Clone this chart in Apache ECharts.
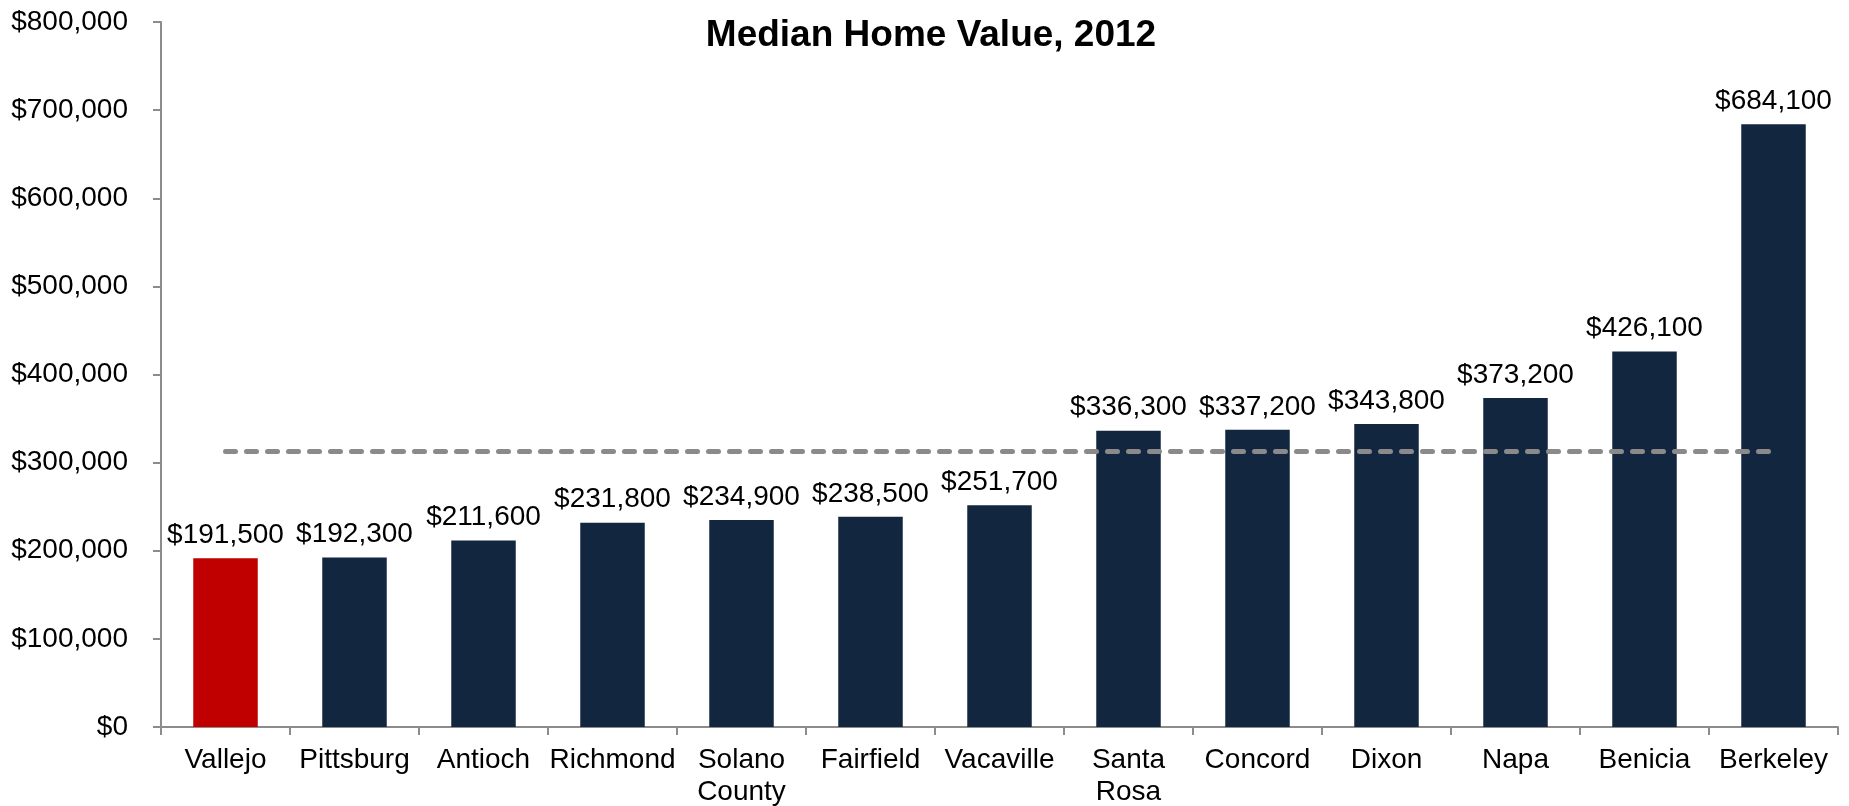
<!DOCTYPE html>
<html>
<head>
<meta charset="utf-8">
<title>Median Home Value, 2012</title>
<script src="https://cdn.jsdelivr.net/npm/echarts@6/dist/echarts.min.js"></script>
<style>
  html, body { margin: 0; padding: 0; background: #ffffff; }
  #chart { width: 1849px; height: 806px; }
</style>
</head>
<body>
<div id="chart"></div>
<script>
// Cities, ordered by median home value
const cities = ['Vallejo', 'Pittsburg', 'Antioch', 'Richmond', 'Solano\nCounty', 'Fairfield',
  'Vacaville', 'Santa\nRosa', 'Concord', 'Dixon', 'Napa', 'Benicia', 'Berkeley'];
const medianValues = [191500, 192300, 211600, 231800, 234900, 238500,
  251700, 336300, 337200, 343800, 373200, 426100, 684100];
// Reference level drawn as a dashed line across all cities
const referenceValues = [312500, 312500, 312500, 312500, 312500, 312500,
  312500, 312500, 312500, 312500, 312500, 312500, 312500];
const highlightCity = 'Vallejo';
const yTicks = { min: 0, max: 800000, interval: 100000 };

const FONT = '"Liberation Sans", Arial, Helvetica, sans-serif';
const NAVY = '#13263f';
const RED = '#c00000';
const AXIS_GREY = '#8c8c8c';

const money = v => '$' + v.toLocaleString('en-US');

const chart = echarts.init(document.getElementById('chart'));
chart.setOption({
  animation: false,
  backgroundColor: '#ffffff',
  textStyle: { fontFamily: FONT },
  graphic: [{
    type: 'text',
    x: 931,
    y: 36,
    style: {
      text: 'Median Home Value, 2012',
      font: 'bold 37px ' + FONT,
      fill: '#000000',
      align: 'center',
      verticalAlign: 'middle'
    }
  }],
  grid: { left: 161, right: 11, top: 22, bottom: 79, containLabel: false, outerBoundsMode: 'none' },
  xAxis: {
    type: 'category',
    data: cities,
    boundaryGap: true,
    axisLine: { lineStyle: { color: AXIS_GREY, width: 2 } },
    axisTick: { show: true, length: 8, alignWithLabel: false, lineStyle: { color: AXIS_GREY, width: 2 } },
    axisLabel: { interval: 0, color: '#000000', fontSize: 28, lineHeight: 32, margin: 17, fontFamily: FONT }
  },
  yAxis: {
    type: 'value',
    min: yTicks.min,
    max: yTicks.max,
    interval: yTicks.interval,
    splitLine: { show: false },
    axisLine: { show: true, lineStyle: { color: AXIS_GREY, width: 2 } },
    axisTick: { show: true, length: 8, lineStyle: { color: AXIS_GREY, width: 2 } },
    axisLabel: { color: '#000000', fontSize: 28, margin: 33, fontFamily: FONT, formatter: money }
  },
  series: [
    {
      type: 'bar',
      barWidth: '50%',
      data: medianValues.map((v, i) => ({
        value: v,
        itemStyle: { color: cities[i] === highlightCity ? RED : NAVY }
      })),
      label: {
        show: true,
        position: 'top',
        distance: 9,
        color: '#000000',
        fontSize: 28,
        fontFamily: FONT,
        formatter: p => money(p.value)
      },
      z: 2
    },
    {
      type: 'line',
      data: referenceValues,
      symbol: 'none',
      silent: true,
      lineStyle: { color: '#8a8a8a', width: 5, type: [10, 11], cap: 'round' },
      z: 5
    }
  ]
});
</script>
</body>
</html>
